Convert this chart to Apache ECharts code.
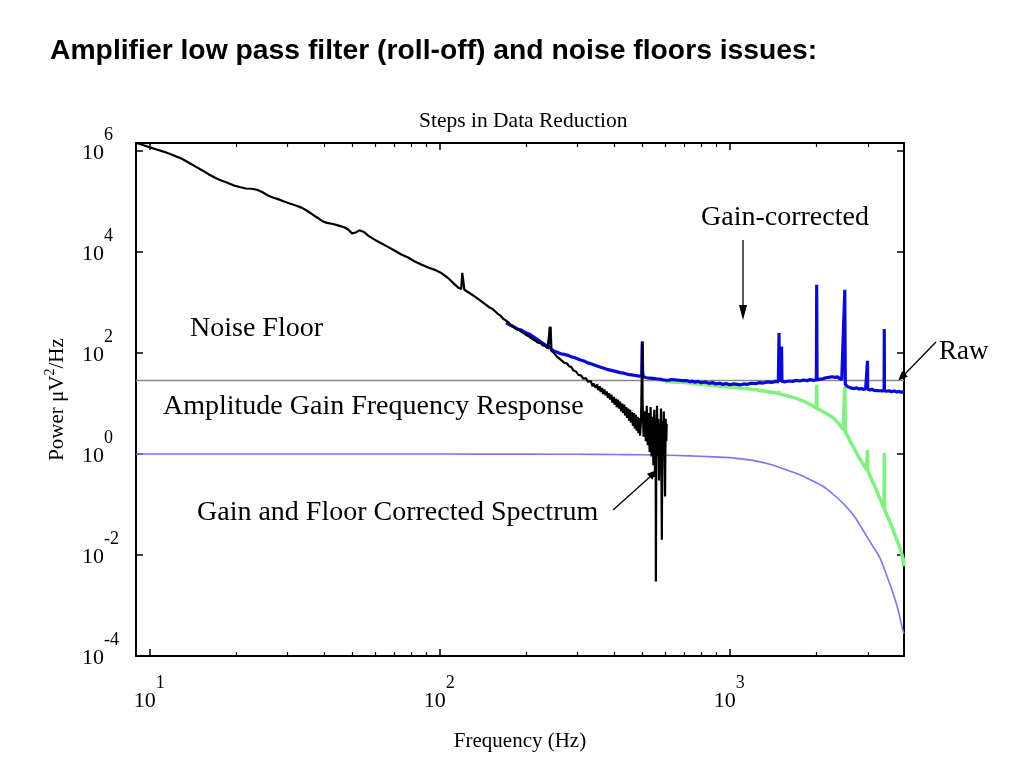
<!DOCTYPE html>
<html><head><meta charset="utf-8">
<script src="https://cdn.jsdelivr.net/npm/echarts@6/dist/echarts.min.js"></script>
<style>html,body{margin:0;padding:0;background:#fff}#c{width:1024px;height:768px}</style>
</head><body><div id="c"></div>
<script>
// ---- tick values ----
const xMajorTicks = [10, 100, 1000];
const xMinorTicks = [20,30,40,50,60,70,80,90,200,300,400,500,600,700,800,900,2000,3000];
const yMajorTicks = [1e-4, 1e-2, 1, 1e2, 1e4, 1e6];

// ---- series data: [frequency Hz, power] ----
const noiseFloor = [[9, 28.6], [4000, 28.6]];

const gainResponse = [[9,1],[50,1],[100,1],[200,0.995],[300,0.99],[400,0.98],[500,0.97],[600,0.95],[731,0.92],[850,0.89],[1004,0.85],[1200,0.75],[1380,0.63],[1550,0.5],[1750,0.39],[1900,0.31],[2100,0.23],[2280,0.16],[2460,0.107],[2700,0.058],[2880,0.032],[3100,0.016],[3300,0.0089],[3500,0.0037],[3660,0.0018],[3800,0.0009],[3960,0.00033],[4000,0.00028]];

const rawSpectrum = [[600,27.5],[650,26.8],[700,26],[731,25.5],[765,24.6],[800,24],[835,23.6],[870,23],[910,22.3],[952,21.8],[1000,21.2],[1050,20.8],[1100,20.1],[1150,19.8],[1195,19.1],[1241,18.8],[1285,18],[1330,17.6],[1375,16.9],[1420,16.5],[1480,15.8],[1483,17.5],[1487,15.6],[1533,14.9],[1585,14.2],[1640,13.4],[1695,12.8],[1751,11.9],[1810,11],[1870,10],[1930,9.2],[1995,8.2],[2000,23.5],[2005,8.0],[2070,7.3],[2140,6.5],[2210,5.9],[2282,5.2],[2330,4.6],[2380,4],[2425,3.5],[2468,3.03],[2500,21.8],[2510,2.7],[2565,2.2],[2620,1.7],[2680,1.35],[2742,1.05],[2800,0.85],[2850,0.72],[2910,0.6],[2970,0.49],[2994,1.2],[3000,0.47],[3050,0.38],[3100,0.3],[3160,0.24],[3215,0.196],[3270,0.15],[3330,0.12],[3380,0.095],[3415,0.085],[3420,1.06],[3425,0.082],[3490,0.062],[3550,0.05],[3610,0.04],[3670,0.032],[3740,0.023],[3820,0.017],[3900,0.012],[3972,0.0085],[4000,0.006]];

const gainCorrected = [[170,400],[175,360],[180,335],[186,300],[192,285],[198,255],[204,240],[211,210],[217,190],[224,165],[230,150],[236,135],[240,125],[241,330],[242.5,122],[248,110],[255,104],[262,97],[270,94],[278,90],[286,84],[295,80],[305,74],[315,70],[325,64],[335,61],[346,57],[358,53],[370,50],[382,47],[395,45],[408,43],[420,41],[433,40],[446,38],[460,37],[474,36],[488,35],[499,35],[500,120],[501,170],[502,45],[505,34],[512,36],[518,32.5],[525,34.5],[532,32],[539,34],[546,31.5],[553,33],[560,31],[568,32.5],[575,30.5],[583,32],[590,29.5],[598,31],[605,29],[613,30.5],[620,29],[630,30],[640,28.5],[650,29.5],[660,28],[670,29],[680,27.5],[690,28.5],[700,27.5],[715,28.5],[731,27],[745,28],[760,26.5],[780,27.5],[800,25.8],[825,26.8],[850,25.2],[875,26],[900,24.5],[925,25.3],[950,24],[975,25],[1000,23.6],[1040,24.6],[1087,23.4],[1120,24.5],[1150,24],[1190,25.3],[1230,24.8],[1270,26],[1310,25.5],[1350,26.8],[1400,26.2],[1440,27.5],[1475,27],[1483,249],[1487,27],[1508,27.5],[1513,135],[1518,27.5],[1560,27],[1600,28],[1650,27.5],[1700,28.8],[1750,28],[1800,29.3],[1850,28.5],[1900,29.8],[1950,28.8],[1995,29.5],[2000,2250],[2006,29.5],[2050,30.5],[2100,31],[2150,32.5],[2200,33],[2230,35.5],[2260,34],[2290,36],[2320,33],[2360,34],[2400,31],[2440,30],[2470,29],[2500,1790],[2510,24],[2535,22.5],[2560,21.5],[2590,22],[2620,20.5],[2660,21],[2700,19.8],[2750,20.5],[2800,19.3],[2850,20],[2900,19],[2950,19.6],[2990,19],[2994,70.5],[2998,19.3],[3050,18.6],[3100,19.2],[3150,18.3],[3200,18.8],[3250,18],[3300,18.6],[3360,17.8],[3415,18.2],[3420,299],[3425,18],[3480,17.5],[3550,18],[3620,17.2],[3700,17.7],[3780,17],[3850,17.4],[3920,16.8],[4000,17]];

const correctedSpectrum = [[9.05,1.45e6],[9.5,1.32e6],[10,1.2e6],[10.6,1.08e6],[11.2,9.8e5],[11.8,8.8e5],[12.4,7.8e5],[13,7.0e5],[13.7,5.9e5],[14.4,5.0e5],[15.2,4.2e5],[16,3.5e5],[16.8,3.0e5],[17.6,2.65e5],[18.5,2.4e5],[19.5,2.1e5],[20.5,1.95e5],[21.5,1.82e5],[22.5,1.8e5],[23.5,1.72e5],[24.5,1.55e5],[25.5,1.35e5],[26.5,1.22e5],[27.8,1.12e5],[29,1.02e5],[30.5,9.2e4],[32,8.4e4],[33.5,7.6e4],[35,6.6e4],[36.5,5.6e4],[38,4.8e4],[39.5,4.1e4],[41,3.8e4],[43,3.6e4],[45,3.35e4],[47,3.1e4],[48.5,2.8e4],[50,2.35e4],[51.5,2.45e4],[53,2.7e4],[55,2.5e4],[57,2.1e4],[60,1.75e4],[63,1.5e4],[66,1.3e4],[70,1.08e4],[74,9.0e3],[78,7.8e3],[82,6.6e3],[87,5.6e3],[92,4.9e3],[97,4.4e3],[102,3.8e3],[107,3.1e3],[112,2.4e3],[116,2.0e3],[119,1.85e3],[120,3.9e3],[121,3.6e3],[122,1.8e3],[127,1.55e3],[133,1.3e3],[139,1.08e3],[145,900],[148,820],[152,760],[155,690],[159,600],[162,560],[166,480],[169,450],[173,405],[176,360],[180,335],[184,300],[188,290],[192,262],[196,248],[200,225],[205,210],[209,190],[214,178],[218,162],[223,158],[228,140],[232,138],[236,125],[239,118],[241,330],[243,112],[247,104],[250,97],[254,86],[258,84],[262,74],[266,72],[270,64],[275,63],[280,55],[285,53],[290,45],[296,43],[302,37],[308,36],[314,31],[320,32],[326,27],[333,28],[337,22],[340,25],[346,20.5],[350,24],[353,18.5],[357,22],[360,17],[364,20.5],[367,15.5],[371,19],[374,14.5],[378,17.5],[381,13],[385,16],[388,12],[392,15],[395,10.5],[399,13.5],[402,9.5],[406,12.5],[409,8.5],[413,12],[416,8],[420,11],[423,7],[427,10],[430,6.5],[434,9.5],[437,5.8],[441,8.5],[444,5.2],[448,8],[451,4.6],[455,7.5],[458,4.2],[462,6.8],[465,3.6],[469,6.5],[472,3.2],[476,6],[479,2.9],[483,5.5],[486,2.6],[490,5.2],[492,2.3],[496,4.8],[500,80],[501,170],[502,12],[506,2.2],[511,7],[515,1.8],[519,9],[523,1.5],[527,6.5],[531,1.1],[535,8.5],[539,0.9],[543,5.5],[547,0.6],[551,7.5],[554,0.35],[557,4],[558,0.003],[560,2.5],[563,9],[566,0.9],[569,5],[572,0.3],[575,4],[578,1.0],[581,8],[585,0.02],[588,4.5],[591,1.1],[594,7],[597,1.6],[600,0.145],[603,5],[606,1.8],[608,4]];

const SERIF = "'Liberation Serif', 'Times New Roman', serif";
const SANS = "'Liberation Sans', Arial, sans-serif";

const chart = echarts.init(document.getElementById('c'), null, {renderer: 'canvas'});

function powLabel(v) {
  const e = Math.round(Math.log10(v));
  return '{b|10}{s|' + e + '}';
}
const labelRich = {
  b: {fontFamily: SERIF, fontSize: 22, color: '#000'},
  s: {fontFamily: SERIF, fontSize: 18, color: '#000', padding: [0, 0, 36, 0]}
};
const axisLine = {show: true, onZero: false, lineStyle: {color: '#000', width: 2}};
const tickMajor = (vals) => ({show: true, inside: true, length: 7, customValues: vals, lineStyle: {color: '#000', width: 1.5}});
const tickMinor = (vals) => ({show: true, inside: true, length: 4, customValues: vals, lineStyle: {color: '#000', width: 1.2}});

const gridRect = {left: 136, right: 120, top: 143, bottom: 112};
const XR = {min: 9, max: 4000};
const YR = {min: 1e-4, max: 1.45e6};
const annot = '28px ' + SERIF;

const option = {
  animation: false,
  backgroundColor: '#fff',
  title: [
    {text: 'Amplifier low pass filter (roll-off) and noise floors issues:', left: 45, top: 32,
     textStyle: {fontFamily: SANS, fontSize: 28.3, fontWeight: 'bold', color: '#000'}},
    {text: 'Steps in Data Reduction', left: 414, top: 105,
     textStyle: {fontFamily: SERIF, fontSize: 21.5, fontWeight: 'normal', color: '#000'}}
  ],
  grid: [Object.assign({}, gridRect), Object.assign({}, gridRect)],
  xAxis: [
    Object.assign({type: 'log', gridIndex: 0, position: 'bottom', axisLine: axisLine,
      axisTick: tickMajor(xMajorTicks), splitLine: {show: false}, minorTick: {show: false},
      axisLabel: {customValues: xMajorTicks, formatter: powLabel, rich: labelRich, margin: 18},
      name: 'Frequency (Hz)', nameLocation: 'middle', nameGap: 75,
      nameTextStyle: {fontFamily: SERIF, fontSize: 21, color: '#000'}}, XR),
    Object.assign({type: 'log', gridIndex: 0, position: 'top', axisLine: axisLine,
      axisTick: tickMajor(xMajorTicks), axisLabel: {show: false}, splitLine: {show: false}}, XR),
    Object.assign({type: 'log', gridIndex: 1, position: 'bottom', axisLine: {show: false},
      axisTick: tickMinor(xMinorTicks), axisLabel: {show: false}, splitLine: {show: false}}, XR),
    Object.assign({type: 'log', gridIndex: 1, position: 'top', axisLine: {show: false},
      axisTick: tickMinor(xMinorTicks), axisLabel: {show: false}, splitLine: {show: false}}, XR)
  ],
  yAxis: [
    Object.assign({type: 'log', gridIndex: 0, position: 'left', axisLine: axisLine,
      axisTick: tickMajor(yMajorTicks), splitLine: {show: false}, minorTick: {show: false},
      axisLabel: {customValues: yMajorTicks, formatter: powLabel, rich: labelRich, margin: 54, align: 'left',
                  padding: [4, 0, 0, 0]},
      name: '{n|Power μV}{p|2}{n|/Hz}', nameLocation: 'middle', nameGap: 65, nameRotate: 90,
      nameTextStyle: {fontFamily: SERIF, fontSize: 21, color: '#000',
        rich: {n: {fontFamily: SERIF, fontSize: 21, color: '#000'},
               p: {fontFamily: SERIF, fontSize: 14, color: '#000', padding: [0, 0, 14, 0]}}}}, YR),
    Object.assign({type: 'log', gridIndex: 0, position: 'right', axisLine: axisLine,
      axisTick: tickMajor(yMajorTicks), axisLabel: {show: false}, splitLine: {show: false}}, YR),
    Object.assign({type: 'log', gridIndex: 1, position: 'left', show: false}, YR)
  ],
  series: [
    {name: 'Noise Floor', type: 'line', xAxisIndex: 0, yAxisIndex: 0, data: noiseFloor,
     showSymbol: false, lineStyle: {color: '#8a8a8a', width: 1.6}, z: 1},
    {name: 'Amplitude Gain Frequency Response', type: 'line', xAxisIndex: 0, yAxisIndex: 0, data: gainResponse,
     showSymbol: false, smooth: 0.3, lineStyle: {color: '#7878ee', width: 1.6}, z: 2},
    {name: 'Raw', type: 'line', xAxisIndex: 0, yAxisIndex: 0, data: rawSpectrum,
     showSymbol: false, lineStyle: {color: '#80f080', width: 3.5}, z: 3},
    {name: 'Gain-corrected', type: 'line', xAxisIndex: 0, yAxisIndex: 0, data: gainCorrected,
     showSymbol: false, lineStyle: {color: '#0a0ad8', width: 3.2}, z: 4},
    {name: 'Gain and Floor Corrected Spectrum', type: 'line', xAxisIndex: 0, yAxisIndex: 0, data: correctedSpectrum,
     showSymbol: false, lineStyle: {color: '#000', width: 2.2}, z: 5}
  ],
  graphic: [
    {type: 'text', left: 190, top: 315, style: {text: 'Noise Floor', font: annot, fill: '#000'}},
    {type: 'text', left: 163, top: 393, style: {text: 'Amplitude Gain Frequency Response', font: annot, fill: '#000'}},
    {type: 'text', left: 197, top: 499, style: {text: 'Gain and Floor Corrected Spectrum', font: annot, fill: '#000'}},
    {type: 'text', left: 701, top: 204, style: {text: 'Gain-corrected', font: annot, fill: '#000'}},
    {type: 'text', left: 939, top: 338, style: {text: 'Raw', font: '27px ' + SERIF, fill: '#000'}},
    {type: 'line', shape: {x1: 743, y1: 240, x2: 743, y2: 310}, style: {stroke: '#000', lineWidth: 1.3}},
    {type: 'polygon', shape: {points: [[739, 305], [747, 305], [743, 320]]}, style: {fill: '#000'}},
    {type: 'line', shape: {x1: 936, y1: 342, x2: 903, y2: 376}, style: {stroke: '#000', lineWidth: 1.3}},
    {type: 'polygon', shape: {points: [[898, 381], [907.9, 376.6], [902.1, 371]]}, style: {fill: '#000'}},
    {type: 'line', shape: {x1: 613, y1: 510, x2: 651, y2: 476}, style: {stroke: '#000', lineWidth: 1.3}},
    {type: 'polygon', shape: {points: [[657, 470], [652.3, 479.7], [646.9, 473.7]]}, style: {fill: '#000'}}
  ]
};
chart.setOption(option);
</script></body></html>
